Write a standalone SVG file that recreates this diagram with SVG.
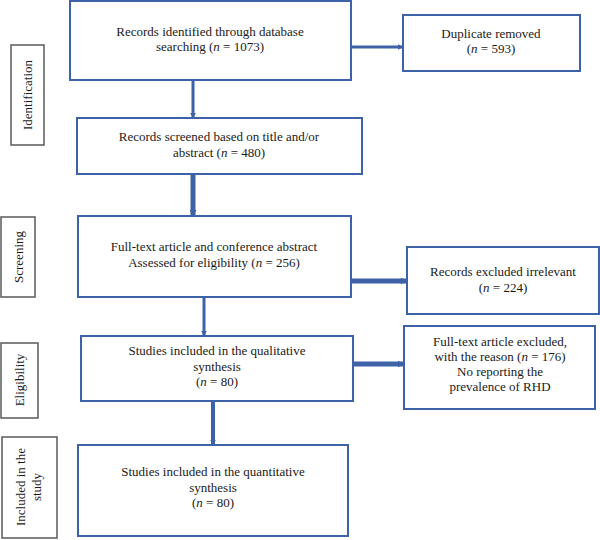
<svg xmlns="http://www.w3.org/2000/svg" width="600" height="540" viewBox="0 0 600 540">
<style>
.box{fill:#fff;stroke:#3d62a8;stroke-width:2}
.lab{fill:#fff;stroke:#595959;stroke-width:1.5}
text{font-family:"Liberation Serif","Times New Roman",serif;font-size:13px;fill:#1a1a1a;text-anchor:middle}
.c{stroke:#3d62a8;fill:none}
</style>
<defs>
<marker id="ah" viewBox="0 0 10 10" refX="9" refY="5" markerWidth="2" markerHeight="2" orient="auto" markerUnits="strokeWidth">
<path d="M0,0 L10,5 L0,10 z" fill="#3d62a8"/>
</marker>
<marker id="ah2" viewBox="0 0 10 10" refX="9" refY="5" markerWidth="1.4" markerHeight="1.4" orient="auto" markerUnits="strokeWidth">
<path d="M0,0 L10,5 L0,10 z" fill="#3d62a8"/>
</marker>
</defs>
<g id="label-identification"><rect class="lab" x="11" y="45" width="33" height="100"/><text transform="translate(32,95) rotate(-90)">Identification</text></g>
<g id="label-screening"><rect class="lab" x="1" y="217" width="34" height="80"/><text transform="translate(23,257) rotate(-90)">Screening</text></g>
<g id="label-eligibility"><rect class="lab" x="1" y="343" width="37" height="75"/><text transform="translate(24,380) rotate(-90)">Eligibility</text></g>
<g id="label-included"><rect class="lab" x="2" y="437" width="55" height="101"/><text transform="translate(25,487) rotate(-90)">Included in the</text><text transform="translate(41,487) rotate(-90)">study</text></g>
<g id="connectors">
<line class="c" x1="193" y1="81" x2="193" y2="118" stroke-width="3" marker-end="url(#ah)"/>
<line class="c" x1="351" y1="47" x2="403" y2="47" stroke-width="3" marker-end="url(#ah)"/>
<line class="c" x1="193" y1="174" x2="193" y2="216" stroke-width="5" marker-end="url(#ah2)"/>
<line class="c" x1="351" y1="281" x2="407" y2="281" stroke-width="5" marker-end="url(#ah2)"/>
<line class="c" x1="204" y1="297" x2="204" y2="336" stroke-width="3" marker-end="url(#ah)"/>
<line class="c" x1="353" y1="364" x2="404" y2="364" stroke-width="5" marker-end="url(#ah2)"/>
<line class="c" x1="213" y1="401" x2="213" y2="445" stroke-width="4" marker-end="url(#ah2)"/>
</g>
<g id="n1"><rect class="box" x="70" y="1" width="281" height="79"/><text x="210" y="36">Records identified through database</text><text x="210" y="51">searching (<tspan font-style="italic">n</tspan> = 1073)</text></g>
<g id="n2"><rect class="box" x="403" y="15" width="177" height="56"/><text x="491" y="38">Duplicate removed</text><text x="491" y="53">(<tspan font-style="italic">n</tspan> = 593)</text></g>
<g id="n3"><rect class="box" x="77" y="118" width="285" height="56"/><text x="219" y="141">Records screened based on title and/or</text><text x="219" y="157">abstract (<tspan font-style="italic">n</tspan> = 480)</text></g>
<g id="n4"><rect class="box" x="78" y="216" width="273" height="81"/><text x="214" y="251">Full-text article and conference abstract</text><text x="214" y="267">Assessed for eligibility (<tspan font-style="italic">n</tspan> = 256)</text></g>
<g id="n5"><rect class="box" x="407" y="247" width="192" height="67"/><text x="503" y="276">Records excluded irrelevant</text><text x="503" y="292">(<tspan font-style="italic">n</tspan> = 224)</text></g>
<g id="n6"><rect class="box" x="81" y="336" width="272" height="65"/><text x="217" y="355">Studies included in the qualitative</text><text x="217" y="371">synthesis</text><text x="217" y="386">(<tspan font-style="italic">n</tspan> = 80)</text></g>
<g id="n7"><rect class="box" x="404" y="326" width="191" height="83"/><text x="500" y="346">Full-text article excluded,</text><text x="500" y="361">with the reason (<tspan font-style="italic">n</tspan> = 176)</text><text x="500" y="376">No reporting the</text><text x="500" y="391">prevalence of RHD</text></g>
<g id="n8"><rect class="box" x="78" y="445" width="270" height="91"/><text x="213" y="476">Studies included in the quantitative</text><text x="213" y="492">synthesis</text><text x="213" y="507">(<tspan font-style="italic">n</tspan> = 80)</text></g>
</svg>
